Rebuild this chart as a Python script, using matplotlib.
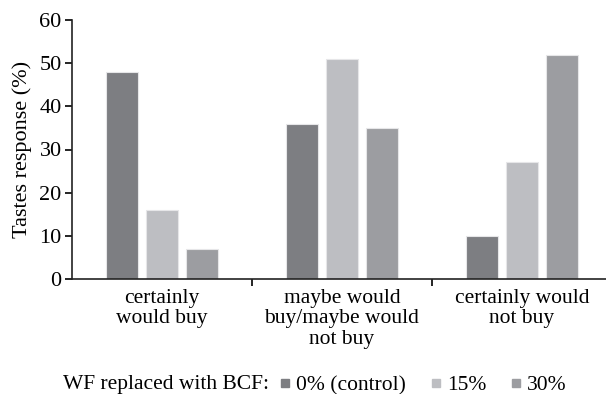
import matplotlib.pyplot as plt
from matplotlib.lines import Line2D
import numpy as np

plt.rcParams['font.family'] = ['Liberation Serif', 'DejaVu Serif']

categories = ["certainly\nwould buy", "maybe would\nbuy/maybe would\nnot buy", "certainly would\nnot buy"]
series_names = ["0% (control)", "15%", "30%"]
control = [48, 36, 10]
bcf15 = [16, 51, 27]
bcf30 = [7, 35, 52]
colors = ["#7d7e82", "#bdbec2", "#9c9da1"]

fs = 15.5

fig = plt.figure(figsize=(6.06, 3.94), dpi=100)
ax = fig.add_axes([72/606, 1 - 279/394, 540/606, (279 - 20)/394])

x = np.arange(len(categories))
w = 0.178
step = 0.222
for i, (vals, c) in enumerate(zip([control, bcf15, bcf30], colors)):
    ax.bar(x + (i - 1) * step, vals, width=w, color=c, edgecolor="#e6e6e8", linewidth=0.8)

ax.set_xlim(-0.5, 2.5)
ax.set_ylim(0, 60)
ax.set_yticks(range(0, 61, 10))
ax.tick_params(axis='y', labelsize=fs + 0.5, length=5, width=1.2, direction='out', pad=2.5)

ax.set_xticks([0.5, 1.5])
ax.set_xticklabels([])
ax.tick_params(axis='x', which='major', length=5, width=1.2, direction='out')
ax.set_xticks(x, minor=True)
ax.set_xticklabels(categories, minor=True, fontsize=fs, linespacing=1.1)
ax.tick_params(axis='x', which='minor', length=0, pad=7)

for s in ['top', 'right']:
    ax.spines[s].set_visible(False)
for s in ['left', 'bottom']:
    ax.spines[s].set_linewidth(1.2)
    ax.spines[s].set_color("#222222")

ax.set_ylabel("Tastes response (%)", fontsize=fs + 0.5, labelpad=5)

fig.text(63/606, 1 - 385/394, "WF replaced with BCF:", fontsize=fs, va='center', ha='left')
handles = [Line2D([], [], marker='s', linestyle='none', markersize=5.5, color=c) for c in colors]
fig.legend(handles, series_names, loc='center left', bbox_to_anchor=(281/606, 1 - 385/394), ncol=3,
           frameon=False, fontsize=fs, handlelength=0.4, handletextpad=0.3,
           columnspacing=1.2, borderpad=0, borderaxespad=0)

fig.savefig("out.png", dpi=100)
